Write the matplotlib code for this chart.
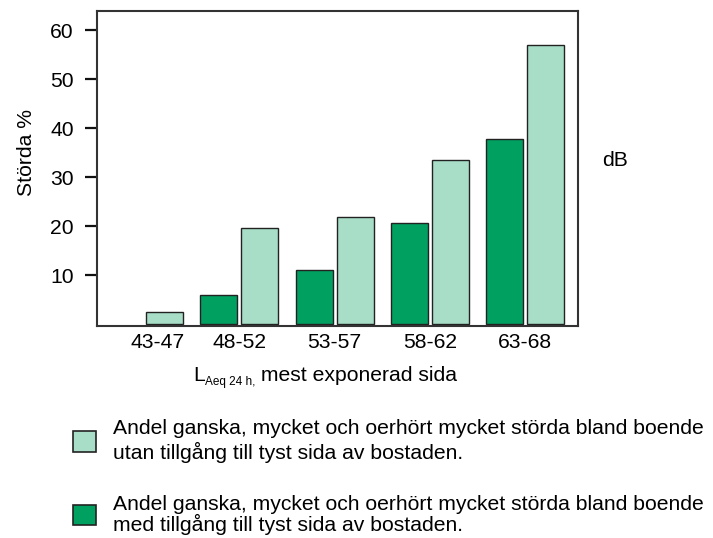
import matplotlib
matplotlib.use("Agg")
import matplotlib.pyplot as plt
from matplotlib.patches import Patch
import numpy as np

# dados (Störda %)
grupos = ["43-47", "48-52", "53-57", "58-62", "63-68"]
med_tyst = [np.nan, 5.9, 11.0, 20.7, 37.7]     # med tillgång till tyst sida
utan_tyst = [2.5, 19.7, 21.8, 33.5, 57.0]      # utan tillgång till tyst sida
y_ticks = [10, 20, 30, 40, 50, 60]

legenda = [
    "Andel ganska, mycket och oerhört mycket störda bland boende\n"
    "utan tillgång till tyst sida av bostaden.",
    "Andel ganska, mycket och oerhört mycket störda bland boende\n"
    "med tillgång till tyst sida av bostaden.",
]

# cores
MORK = "#00a060"
LJUS = "#a8dec8"
KANT = "#222222"
FS = 15.2


#------------------------------------------------------
def main():
    plt.rcParams["font.family"] = ["Liberation Sans", "DejaVu Sans"]

    fig = plt.figure(figsize=(7.13, 5.38), dpi=100)
    ax = fig.add_axes([0.136, 0.394, 0.6746, 0.5855])

    x = np.arange(len(grupos))
    w = 0.388
    off = 0.215

    # barras escuras (sem a primeira, que nao existe)
    ok = ~np.isnan(med_tyst)
    ax.bar(x[ok] - off, np.array(med_tyst)[ok], w, color=MORK,
           edgecolor=KANT, linewidth=1.0)
    ax.bar(x + off, utan_tyst, w, color=LJUS, edgecolor=KANT, linewidth=1.0)

    ax.set_xlim(-0.495, 4.552)
    ax.set_ylim(-0.4, 63.9)

    # eixo y
    ax.set_yticks(y_ticks)
    ax.tick_params(axis="y", direction="out", length=8.6, width=1.6,
                   pad=8, labelsize=FS, color="#111111")
    # eixo x: so os rotulos
    ax.set_xticks([0.14, 1, 2, 3, 4])
    ax.set_xticklabels(grupos)
    ax.tick_params(axis="x", length=0, pad=5, labelsize=FS)

    for s in ax.spines.values():
        s.set_linewidth(1.5)
        s.set_color("#333333")

    ax.text(-0.147, 0.552, "Störda %", transform=ax.transAxes, rotation=90,
            ha="center", va="center", fontsize=FS)
    ax.text(1.05, 0.527, "dB", transform=ax.transAxes, ha="left",
            va="center", fontsize=FS)

    # L_Aeq 24 h, mest exponerad sida
    t1 = fig.text(193 / 713, 1 - 381 / 538, "L", fontsize=FS, va="baseline")
    t2 = ax.annotate("Aeq 24 h,", xy=(1, 0), xycoords=t1, fontsize=8.5,
                     va="baseline", annotation_clip=False)
    ax.annotate(" mest exponerad sida", xy=(1, 0), xycoords=(t2, t1),
                fontsize=FS, va="bottom", annotation_clip=False)

    # legenda
    handles = [Patch(facecolor=LJUS, edgecolor=KANT, linewidth=1.2),
               Patch(facecolor=MORK, edgecolor=KANT, linewidth=1.2)]
    leg = fig.legend(handles, legenda, loc="upper left",
                     bbox_to_anchor=(73 / 713, 1 - 419 / 538),
                     frameon=False, fontsize=FS, handlelength=1.1,
                     handleheight=1.1, handletextpad=0.8, borderpad=0,
                     borderaxespad=0, labelspacing=1.5)
    textos = leg.get_texts()
    textos[0].set_linespacing(1.25)
    textos[1].set_linespacing(1.0)

    fig.savefig("out.png", dpi=100)


#--------------------------------------------------------------
if __name__ == "__main__":
    main()
